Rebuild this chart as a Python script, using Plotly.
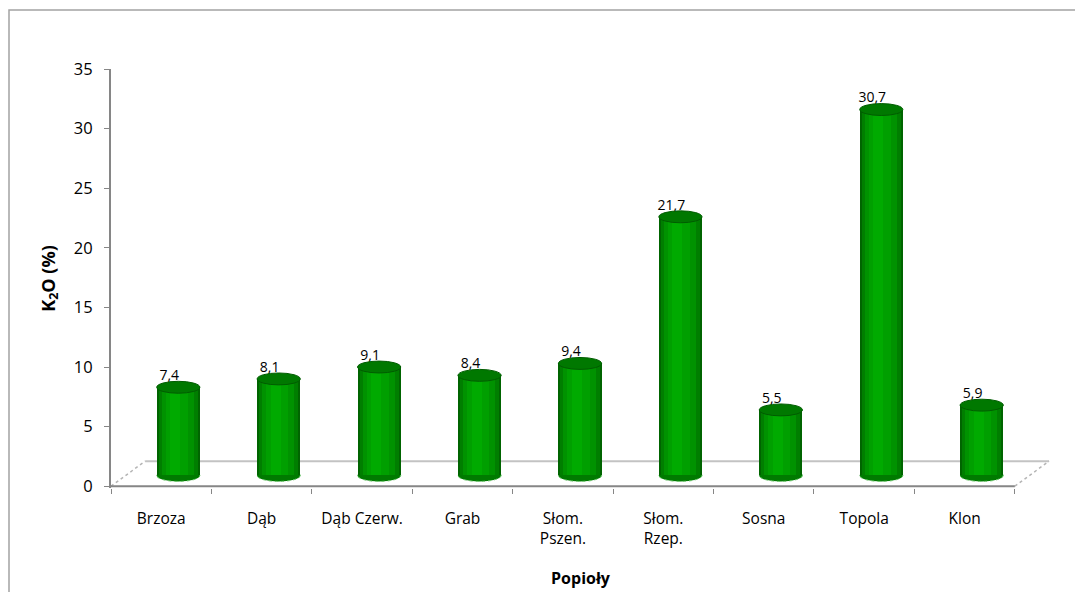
import plotly.graph_objects as go

# ---- data ----
categories = ["Brzoza", "Dąb", "Dąb Czerw.", "Grab", "Słom.\nPszen.", "Słom.\nRzep.", "Sosna", "Topola", "Klon"]
k2o_values = [7.4, 8.1, 9.1, 8.4, 9.4, 21.7, 5.5, 30.7, 5.9]
y_ticks = [0, 5, 10, 15, 20, 25, 30, 35]
y_title = "K<sub>2</sub>O (%)"
x_title = "Popioły"

# ---- style constants ----
FONT = '"Open Sans", "Noto Sans", sans-serif'
DEPTH_X = 0.34      # pseudo-3D depth shift (x units)
DEPTH_Y = 2.1       # pseudo-3D depth shift (y units)
BAR_SHIFT_X = 0.17  # bars sit at mid depth
BAR_BASE = 0.9
BAR_W = 0.43
ELL_H = 0.5
AXIS_COL = "#868686"

xs = list(range(len(categories)))
fig = go.Figure()

# cylinder body, layered for shading
layers = [(BAR_W, 0.0, "#006400"), (0.39, 0.0, "#007e00"), (0.32, -0.005, "#009200"),
          (0.22, -0.015, "#009f00"), (0.10, -0.03, "#00aa00")]
for w, dx, col in layers:
    fig.add_trace(go.Bar(
        x=[x + BAR_SHIFT_X + dx for x in xs], y=k2o_values, base=BAR_BASE,
        width=w, marker=dict(color=col, line=dict(width=0)),
        hoverinfo="skip", showlegend=False))

# data labels
fig.add_trace(go.Scatter(
    x=[x + BAR_SHIFT_X - 0.09 for x in xs],
    y=[v + BAR_BASE + ELL_H * 0.6 for v in k2o_values],
    mode="text", text=[f"{v:.1f}".replace(".", ",") for v in k2o_values],
    textposition="top center", textfont=dict(family=FONT, size=14, color="#000000"),
    showlegend=False, hoverinfo="skip", cliponaxis=False))

shapes = []
# floor
shapes.append(dict(type="line", xref="x", yref="y", x0=-0.5 + DEPTH_X, y0=DEPTH_Y,
                   x1=len(xs) - 0.5 + DEPTH_X, y1=DEPTH_Y, line=dict(color="#c3c3c3", width=2), layer="below"))
shapes.append(dict(type="line", xref="x", yref="y", x0=-0.5, y0=0, x1=-0.5 + DEPTH_X, y1=DEPTH_Y,
                   line=dict(color="#b5b5b5", width=1.5, dash="dot"), layer="below"))
shapes.append(dict(type="line", xref="x", yref="y", x0=len(xs) - 0.5, y0=0, x1=len(xs) - 0.5 + DEPTH_X, y1=DEPTH_Y,
                   line=dict(color="#b5b5b5", width=1.5, dash="dot"), layer="below"))
shapes.append(dict(type="line", xref="x", yref="y", x0=-0.5, y0=0, x1=len(xs) - 0.5, y1=0,
                   line=dict(color=AXIS_COL, width=2), layer="below"))
# bottom and top ellipses of cylinders
for x, v in zip(xs, k2o_values):
    cx = x + BAR_SHIFT_X
    shapes.append(dict(type="circle", xref="x", yref="y", x0=cx - BAR_W / 2, x1=cx + BAR_W / 2,
                       y0=BAR_BASE - ELL_H, y1=BAR_BASE + ELL_H,
                       fillcolor="#007a00", line=dict(color="#6cc86c", width=1, dash="dot"), layer="below"))
    shapes.append(dict(type="circle", xref="x", yref="y", x0=cx - BAR_W / 2, x1=cx + BAR_W / 2,
                       y0=v + BAR_BASE - ELL_H, y1=v + BAR_BASE + ELL_H,
                       fillcolor="#007800", line=dict(color="#005c00", width=1), layer="above"))
# outer chart border
shapes.append(dict(type="rect", xref="paper", yref="paper", x0=-102 / 939, x1=2, y0=-1, y1=1 + 59 / 419,
                   line=dict(color="#a3a3a3", width=1.5), fillcolor="rgba(0,0,0,0)", layer="below"))

fig.update_layout(
    width=1075, height=592,
    margin=dict(l=111, r=25, t=69, b=104, autoexpand=False),
    paper_bgcolor="white", plot_bgcolor="white",
    barmode="overlay", bargap=0,
    font=dict(family=FONT, size=15, color="#000000"),
    shapes=shapes, showlegend=False,
    xaxis=dict(range=[-0.5, len(xs) - 0.5 + DEPTH_X + 0.01], tickvals=xs, automargin=False,
               ticktext=[c.replace("\n", "<br>") for c in categories],
               showline=False, showgrid=False, zeroline=False, ticks="",
               ticklabelstandoff=19, tickfont=dict(family=FONT, size=15.5, color="#000000"),
               minor=dict(tickvals=[x - 0.5 for x in xs] + [len(xs) - 0.5], ticks="outside",
                          ticklen=5, tickcolor=AXIS_COL, tickwidth=1, showgrid=False),
               title=dict(text=x_title, font=dict(family=FONT, size=16, weight="bold", color="#000000"),
                          standoff=25)),
    yaxis=dict(range=[-0.15, 35], tickvals=y_ticks, showline=True, linecolor=AXIS_COL, linewidth=2,
               automargin=False,
               ticks="outside", ticklen=5, tickcolor=AXIS_COL, showgrid=False, zeroline=False,
               ticklabelstandoff=8, tickfont=dict(family=FONT, size=16.5, color="#000000"),
               title=dict(text=y_title, font=dict(family=FONT, size=18, weight="bold", color="#000000"),
                          standoff=14)),
)

fig.write_html("out.html")
